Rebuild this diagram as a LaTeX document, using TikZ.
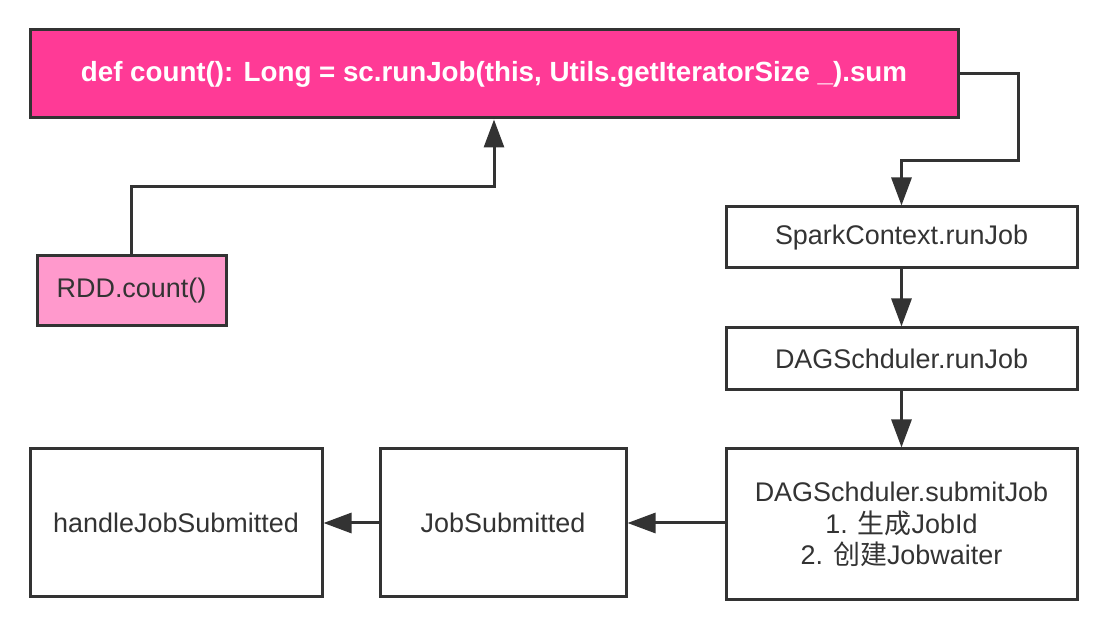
\documentclass[tikz,border=0pt]{standalone}
\usepackage{fontspec}
\setmainfont{Liberation Sans}
\newfontfamily\cjk{Noto Sans CJK SC}
\usetikzlibrary{arrows.meta}
\definecolor{edgegray}{HTML}{333333}
\definecolor{hotpink}{RGB}{255,58,150}
\definecolor{softpink}{HTML}{FF99CC}
\tikzset{
  box/.style={draw=edgegray,line width=2.25pt,rectangle,inner sep=0pt,align=center,font=\fontsize{20.2}{23.5}\selectfont,text=black!80},
  conn/.style={draw=edgegray,line width=2.25pt,-{Triangle[length=21pt,width=15pt]}},
}

\begin{document}
\begin{tikzpicture}[x=0.75pt,y=-0.75pt]
\useasboundingbox (0,0) rectangle (1118,630);
% main call
\node[box,fill=hotpink,text=white,minimum width=696pt,minimum height=66pt,font=\fontsize{20.8}{24}\selectfont\bfseries] (count) at (494,74) {def count(): Long = sc.runJob(this, Utils.getIteratorSize \_).sum};
\node[box,fill=softpink,minimum width=141.75pt,minimum height=52.5pt] (rdd) at (131.5,291) {RDD.count()};
% right column
\node[box,minimum width=263.25pt,minimum height=45.75pt] (spark) at (901.5,237.5) {SparkContext.runJob};
\node[box,minimum width=263.25pt,minimum height=46.5pt] (dagrun) at (901.5,359) {DAGSchduler.runJob};
\node[box,minimum width=263.25pt,minimum height=113.25pt] (submit) at (901.5,524.5) {DAGSchduler.submitJob\\1. {\cjk 生成}JobId\\2. {\cjk 创建}Jobwaiter};
% bottom row
\node[box,minimum width=184.5pt,minimum height=111pt] (jobsub) at (503,523) {JobSubmitted};
\node[box,minimum width=219pt,minimum height=111pt] (handle) at (176,523) {handleJobSubmitted};
% connectors
\path (count.south) ++(0,67) coordinate (rddbend);
\coordinate (sparkbend) at (1018,161);
\draw[conn] (rdd.north) |- (rddbend) -- (count.south);
\draw[conn] (count.east) -| (sparkbend) -| (spark.north);
\draw[conn] (spark) -- (dagrun);
\draw[conn] (dagrun) -- (submit);
\draw[conn] (submit.west |- jobsub.east) -- (jobsub.east);
\draw[conn] (jobsub.west) -- (handle.east);
\end{tikzpicture}
\end{document}
